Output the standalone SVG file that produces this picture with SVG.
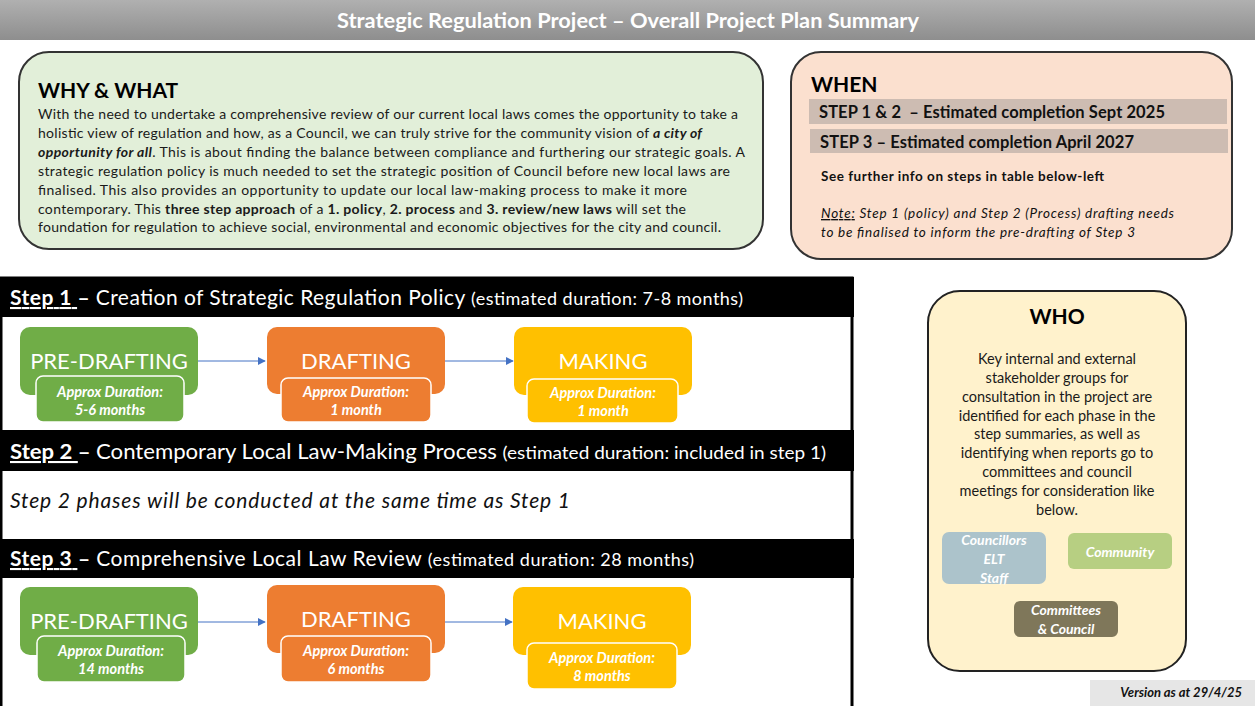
<svg xmlns="http://www.w3.org/2000/svg" width="1255" height="706" viewBox="0 0 1255 706">
<defs>
<linearGradient id="tg" x1="0" y1="0" x2="0" y2="1">
<stop offset="0" stop-color="#b0b0b0"/><stop offset="1" stop-color="#8e8e8e"/>
</linearGradient>
<marker id="ah" viewBox="0 0 10 10" refX="9" refY="5" markerWidth="8" markerHeight="8" markerUnits="userSpaceOnUse" orient="auto">
<path d="M0,0 L10,5 L0,10 z" fill="#4472c4"/>
</marker>
</defs>
<style>
text{font-family:Lato,"Open Sans","Liberation Sans",sans-serif;}
.ttl{font-size:20px;font-weight:bold;fill:#fff;}
.h{font-size:21px;font-weight:bold;fill:#000;}
.p{font-size:14px;fill:#1a1a1a;}
.b{font-weight:bold;}
.bi{font-weight:bold;font-style:italic;}
.bar{fill:#cdbcb2;}
.bt{font-size:16.5px;font-weight:bold;fill:#111;}
.sm{font-size:13.5px;fill:#111;}
.it{font-style:italic;}
.band{fill:#000;}
.sh{fill:#fff;font-size:21px;}
.shs{font-size:18px;}
.node{stroke:none;}
.sub{stroke:#fff;stroke-width:1.5;}
.nt{fill:#fff;font-size:22px;text-anchor:middle;}
.st{fill:#fff;font-size:14.5px;font-weight:bold;font-style:italic;text-anchor:middle;}
.g{fill:#70ad47;} .o{fill:#ed7d31;} .y{fill:#ffc000;}
.who{font-size:14.5px;fill:#1a1a1a;text-anchor:middle;}
.chip{fill:#fff;font-size:14px;font-weight:bold;font-style:italic;text-anchor:middle;}
.conn{stroke:#4472c4;stroke-width:1;fill:none;marker-end:url(#ah);}
</style>
<rect x="0" y="0" width="1255" height="706" fill="#fff"/>
<g id="title">
<rect x="0" y="0" width="1255" height="40" fill="url(#tg)"/>
<text class="ttl" x="628" y="28" text-anchor="middle" textLength="582" lengthAdjust="spacingAndGlyphs">Strategic Regulation Project – Overall Project Plan Summary</text>
</g>
<g id="why">
<rect x="19" y="52" width="744" height="197" rx="30" fill="#e2efd9" stroke="#333" stroke-width="2"/>
<text class="h" x="38" y="98">WHY &amp; WHAT</text>
<text class="p" x="38" y="119" textLength="700">With the need to undertake a comprehensive review of our current local laws comes the opportunity to take a</text>
<text class="p" x="38" y="138" textLength="664">holistic view of regulation and how, as a Council, we can truly strive for the community vision of <tspan class="bi">a city of</tspan></text>
<text class="p" x="38" y="157" textLength="707"><tspan class="bi">opportunity for all</tspan>. This is about finding the balance between compliance and furthering our strategic goals. A</text>
<text class="p" x="38" y="176" textLength="692">strategic regulation policy is much needed to set the strategic position of Council before new local laws are</text>
<text class="p" x="38" y="195" textLength="649">finalised. This also provides an opportunity to update our local law-making process to make it more</text>
<text class="p" x="38" y="214" textLength="648">contemporary. This <tspan class="b">three step approach</tspan> of a <tspan class="b">1. policy</tspan>, <tspan class="b">2. process</tspan> and <tspan class="b">3. review/new laws</tspan> will set the</text>
<text class="p" x="38" y="232" textLength="683">foundation for regulation to achieve social, environmental and economic objectives for the city and council.</text>
</g>
<g id="when">
<rect x="791" y="52" width="441" height="207" rx="30" fill="#fbe0cf" stroke="#333" stroke-width="2"/>
<text class="h" x="811" y="92">WHEN</text>
<rect class="bar" x="809" y="99" width="418" height="25"/>
<text class="bt" x="819" y="118" textLength="346" xml:space="preserve">STEP 1 &amp; 2  – Estimated completion Sept 2025</text>
<rect class="bar" x="810" y="129" width="418" height="24"/>
<text class="bt" x="820" y="148" textLength="314">STEP 3 – Estimated completion April 2027</text>
<text class="sm b" x="821" y="181" textLength="283">See further info on steps in table below-left</text>
<text class="sm it" x="821" y="218" textLength="353"><tspan text-decoration="underline">Note:</tspan> Step 1 (policy) and Step 2 (Process) drafting needs</text>
<text class="sm it" x="821" y="237" textLength="314">to be finalised to inform the pre-drafting of Step 3</text>
</g>
<g id="frame">
<rect x="1" y="278" width="851" height="430" fill="#fff" stroke="#000" stroke-width="3"/>
<rect class="band" x="0" y="277" width="854" height="40"/>
<rect class="band" x="0" y="430" width="854" height="41"/>
<rect class="band" x="0" y="539" width="854" height="39"/>
</g>
<g id="step1-header">
<text class="sh" x="10" y="305" textLength="733"><tspan class="b" text-decoration="underline">Step 1 </tspan><tspan class="b">– </tspan>Creation of Strategic Regulation Policy <tspan class="shs">(estimated duration: 7-8 months)</tspan></text>
</g>
<g id="step2-header">
<text class="sh" x="10" y="459" textLength="816" lengthAdjust="spacingAndGlyphs"><tspan class="b" text-decoration="underline">Step 2 </tspan><tspan class="b">– </tspan>Contemporary Local Law-Making Process <tspan class="shs">(estimated duration: included in step 1)</tspan></text>
<text x="10" y="508" font-size="21" font-style="italic" fill="#111" textLength="560">Step 2 phases will be conducted at the same time as Step 1</text>
</g>
<g id="step3-header">
<text class="sh" x="10" y="566" textLength="684"><tspan class="b" text-decoration="underline">Step 3 </tspan><tspan class="b">– </tspan>Comprehensive Local Law Review <tspan class="shs">(estimated duration: 28 months)</tspan></text>
</g>
<g id="connectors">
<line class="conn" x1="198" y1="361" x2="265" y2="361"/>
<line class="conn" x1="444" y1="361" x2="513" y2="361"/>
<line class="conn" x1="198" y1="622" x2="265" y2="622"/>
<line class="conn" x1="444" y1="622" x2="512" y2="622"/>
</g>
<g id="s1-predrafting">
<rect class="node g" x="20" y="327" width="178" height="68" rx="10"/>
<text class="nt" x="109" y="369">PRE-DRAFTING</text>
<rect class="sub g" x="36" y="376" width="148" height="46" rx="7"/>
<text class="st" x="110" y="397">Approx Duration:</text>
<text class="st" x="110" y="415">5-6 months</text>
</g>
<g id="s1-drafting">
<rect class="node o" x="267" y="327" width="178" height="67" rx="10"/>
<text class="nt" x="356" y="369">DRAFTING</text>
<rect class="sub o" x="281" y="378" width="150" height="44" rx="7"/>
<text class="st" x="356" y="397">Approx Duration:</text>
<text class="st" x="356" y="415">1 month</text>
</g>
<g id="s1-making">
<rect class="node y" x="514" y="327" width="178" height="68" rx="10"/>
<text class="nt" x="603" y="369">MAKING</text>
<rect class="sub y" x="527" y="379" width="151" height="44" rx="7"/>
<text class="st" x="603" y="398">Approx Duration:</text>
<text class="st" x="603" y="416">1 month</text>
</g>
<g id="s3-predrafting">
<rect class="node g" x="20" y="587" width="178" height="68" rx="10"/>
<text class="nt" x="109" y="629">PRE-DRAFTING</text>
<rect class="sub g" x="37" y="636" width="148" height="46" rx="7"/>
<text class="st" x="111" y="656">Approx Duration:</text>
<text class="st" x="111" y="674">14 months</text>
</g>
<g id="s3-drafting">
<rect class="node o" x="267" y="585" width="178" height="68" rx="10"/>
<text class="nt" x="356" y="627">DRAFTING</text>
<rect class="sub o" x="281" y="636" width="150" height="46" rx="7"/>
<text class="st" x="356" y="656">Approx Duration:</text>
<text class="st" x="356" y="674">6 months</text>
</g>
<g id="s3-making">
<rect class="node y" x="513" y="587" width="178" height="68" rx="10"/>
<text class="nt" x="602" y="629">MAKING</text>
<rect class="sub y" x="527" y="643" width="150" height="46" rx="7"/>
<text class="st" x="602" y="663">Approx Duration:</text>
<text class="st" x="602" y="681">8 months</text>
</g>
<g id="who">
<rect x="928" y="291" width="258" height="380" rx="32" fill="#fff2cc" stroke="#222" stroke-width="2"/>
<text class="h" x="1057" y="324" text-anchor="middle">WHO</text>
<text class="who" x="1057" y="364">Key internal and external</text>
<text class="who" x="1057" y="383">stakeholder groups for</text>
<text class="who" x="1057" y="402">consultation in the project are</text>
<text class="who" x="1057" y="421">identified for each phase in the</text>
<text class="who" x="1057" y="439">step summaries, as well as</text>
<text class="who" x="1057" y="458">identifying when reports go to</text>
<text class="who" x="1057" y="477">committees and council</text>
<text class="who" x="1057" y="496">meetings for consideration like</text>
<text class="who" x="1057" y="515">below.</text>
</g>
<g id="chip-internal">
<rect x="942" y="532" width="104" height="52" rx="7" fill="#acc3cb"/>
<text class="chip" x="994" y="545">Councillors</text>
<text class="chip" x="994" y="564">ELT</text>
<text class="chip" x="994" y="583">Staff</text>
</g>
<g id="chip-community">
<rect x="1068" y="533" width="104" height="36" rx="6" fill="#b7cf82"/>
<text class="chip" x="1120" y="557">Community</text>
</g>
<g id="chip-committees">
<rect x="1014" y="601" width="104" height="36" rx="6" fill="#7f775a"/>
<text class="chip" x="1066" y="615">Committees</text>
<text class="chip" x="1066" y="634">&amp; Council</text>
</g>
<g id="version">
<rect x="1090" y="680" width="165" height="26" fill="#e6e6e6"/>
<text x="1242" y="697" text-anchor="end" font-size="13" font-weight="bold" font-style="italic" fill="#111">Version as at 29/4/25</text>
</g>
</svg>
